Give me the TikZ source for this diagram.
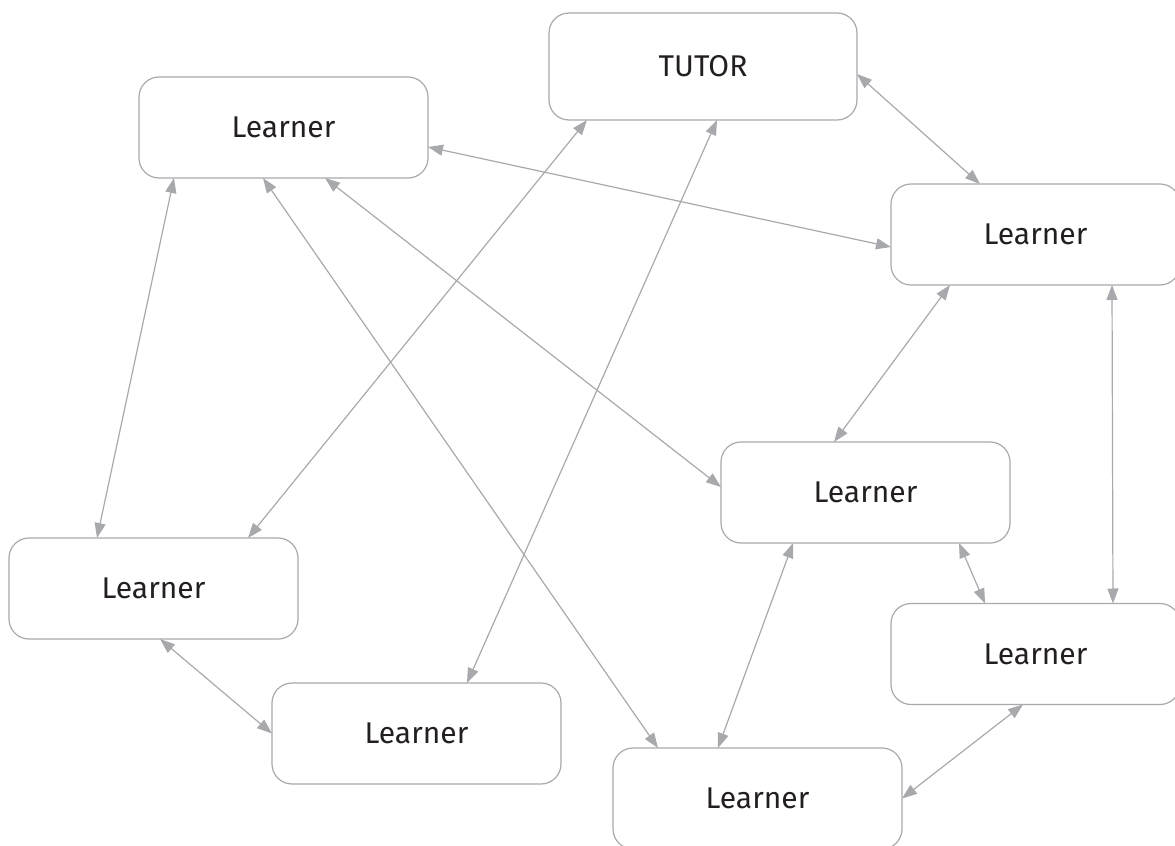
\documentclass[tikz,border=0pt]{standalone}
\usepackage{fontspec}
\setmainfont{Fira Sans}
\usetikzlibrary{arrows.meta,calc}
\definecolor{linegray}{HTML}{A7A9AC}
\definecolor{textblack}{HTML}{231F20}
\tikzset{
    box/.style={draw=linegray,line width=0.6pt,rounded corners=10pt,
        minimum width=144.5pt,minimum height=50.5pt,inner sep=0pt,outer sep=0pt,
        text=textblack,font=\fontsize{15}{18}\selectfont},
    tutorbox/.style={box,minimum width=154pt,minimum height=53.5pt},
    link/.style={draw=linegray,line width=0.6pt,
        {Triangle[length=7.5pt,width=5.5pt]}-{Triangle[length=7.5pt,width=5.5pt]}}
}
\begin{document}
\begin{tikzpicture}[x=0.5pt,y=-0.5pt]
            \useasboundingbox (0,0) rectangle (1175,846);
            \node[tutorbox] (tutor) at (703,66.5) {TUTOR};
            \node[box] (la) at (283.5,127.5) {Learner};
            \node[box] (lb) at (1035.5,234.5) {Learner};
            \node[box] (lc) at (865.5,492.5) {Learner};
            \node[box] (ld) at (153.5,588.5) {Learner};
            \node[box] (le) at (416.5,733.5) {Learner};
            \node[box] (lf) at (757.5,798.5) {Learner};
            \node[box] (lg) at (1035.5,654) {Learner};
            \draw[link] ($(tutor.east)+(0,7.5)$)--($(lb.north west)+(89,0)$);
            \draw[link] ($(la.east)+(0,19.5)$)--($(lb.west)+(0,12.5)$);
            \draw[link] ($(la.south west)+(35,0)$)--($(ld.north west)+(88,0)$);
            \draw[link] ($(tutor.south west)+(38,0)$)--($(ld.north east)+(-50,0)$);
            \draw[link] ($(tutor.south west)+(168,0)$)--($(le.north east)+(-94,0)$);
            \draw[link] ($(la.south west)+(124,0)$)--($(lf.north west)+(45,0)$);
            \draw[link] ($(la.south west)+(186,0)$)--($(lc.west)+(0,-5.5)$);
            \draw[link] ($(lb.south west)+(59,0)$)--($(lc.north west)+(113,0)$);
            \draw[link] ($(lb.south west)+(221,0)$)--($(lg.north west)+(222,0)$);
            \draw[link] ($(lc.south east)+(-51,0)$)--($(lg.north west)+(94,0)$);
            \draw[link] ($(lc.south west)+(72,0)$)--($(lf.north west)+(105,0)$);
            \draw[link] ($(lg.south west)+(132,0)$)--(lf.east);
            \draw[link] ($(ld.south west)+(151,0)$)--(le.west);
        \end{tikzpicture}
\end{document}
